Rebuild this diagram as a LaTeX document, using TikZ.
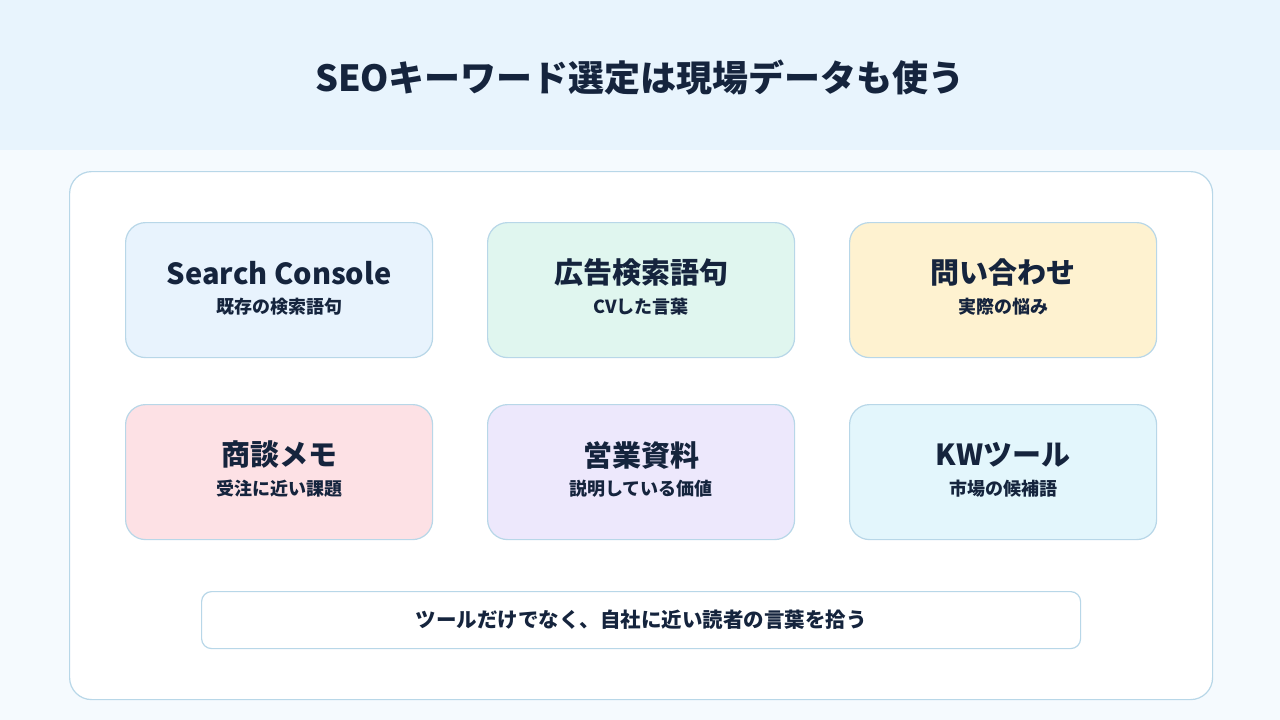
\documentclass[tikz,border=0pt]{standalone}
\usepackage{fontspec}
\setmainfont{Noto Sans CJK JP}
\definecolor{ink}{HTML}{15243D}
\definecolor{hdr}{HTML}{E8F4FD}
\definecolor{bg}{HTML}{F5FAFE}
\definecolor{bd}{HTML}{B8D7E8}
\definecolor{cA}{HTML}{E8F3FD}
\definecolor{cB}{HTML}{E0F6EF}
\definecolor{cC}{HTML}{FEF2D0}
\definecolor{cD}{HTML}{FDE1E5}
\definecolor{cE}{HTML}{EDE8FC}
\definecolor{cF}{HTML}{E3F6FC}
\tikzset{
 card/.style={draw=bd,line width=1.2pt,rounded corners=20pt,minimum width=307pt,minimum height=135pt,anchor=north west,inner sep=0pt},
 ttl/.style={text=ink,font=\bfseries\fontsize{29}{33}\selectfont},
 sub/.style={text=ink,font=\bfseries\fontsize{18}{21}\selectfont},
}
\begin{document}
\begin{tikzpicture}[x=1pt,y=-1pt]
\useasboundingbox (0,0) rectangle (1280,720);
\fill[bg] (0,0) rectangle (1280,720);
\fill[hdr] (0,0) rectangle (1280,150);
\node[ttl,font=\bfseries\fontsize{36}{42}\selectfont] (title) at (640,78) {SEOキーワード選定は現場データも使う};
\node[draw=bd,line width=1.2pt,fill=white,rounded corners=22pt,minimum width=1143pt,minimum height=528pt,anchor=north west] (outer) at (69,171) {};
\foreach \n/\x/\y/\c/\t/\s in {
 a/125/222/cA/Search Console/既存の検索語句,
 b/487/222/cB/広告検索語句/CVした言葉,
 c/849/222/cC/問い合わせ/実際の悩み,
 d/125/404/cD/商談メモ/受注に近い課題,
 e/487/404/cE/営業資料/説明している価値,
 f/849/404/cF/KWツール/市場の候補語}{
 \node[card,fill=\c] (\n) at (\x,\y) {};
 \node[ttl] (\n t) at ([yshift=-51pt]\n.north) {\t};
 \node[sub] (\n s) at ([yshift=-85pt]\n.north) {\s};
}
\node[draw=bd,line width=1.2pt,fill=white,rounded corners=10pt,minimum width=879pt,minimum height=57pt,anchor=north west,inner sep=0pt] (note) at (201,591) {};
\node[sub,font=\bfseries\fontsize{20.5}{24}\selectfont] (notet) at (note.center) {ツールだけでなく、自社に近い読者の言葉を拾う};
\end{tikzpicture}
\end{document}
